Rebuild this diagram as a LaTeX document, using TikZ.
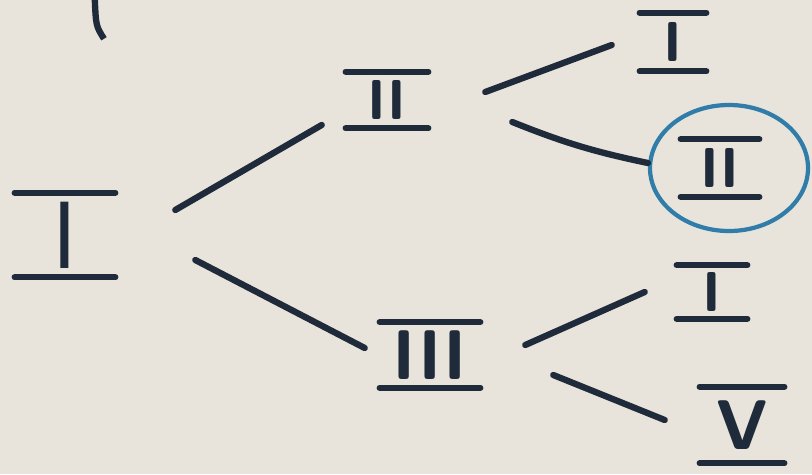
\documentclass[tikz,border=0pt]{standalone}
\usepackage{fontspec}
\usepackage{xcolor}
\usetikzlibrary{shapes.geometric}
\definecolor{ink}{HTML}{1F2B3A}
\definecolor{paper}{HTML}{E9E4DB}
\definecolor{pen}{HTML}{2F7DA8}

\begin{document}
\begin{tikzpicture}[
    bar/.style={ink, line width=4.5pt, line cap=round},
    branch/.style={ink, line width=4.5pt, line cap=round},
    numeral/.style={font=\sffamily\bfseries\fontsize{40}{40}\selectfont, text=ink, inner sep=0pt,
        append after command={
            (\tikzlastnode.north west) edge[bar] (\tikzlastnode.north east)
            (\tikzlastnode.south west) edge[bar] (\tikzlastnode.south east)}},
  ]
    % 背景
    \useasboundingbox (0,0) rectangle (20.3,11.85);
    \fill[paper] (0,0) rectangle (20.3,11.85);

    % 结点
    \node[numeral, font=\sffamily\fontsize{68}{68}\selectfont, minimum width=2.5cm, minimum height=2.1cm] (root) at (1.625,5.975) {I};
    \node[numeral, minimum width=2.05cm, minimum height=1.4cm] (two) at (9.675,9.35) {II};
    \node[numeral, font=\sffamily\bfseries\fontsize{50}{50}\selectfont, minimum width=2.5cm, minimum height=1.625cm] (three) at (10.75,2.975) {III};
    \node[numeral, minimum width=1.65cm, minimum height=1.45cm] (twoOne) at (16.825,10.8) {I};
    \node[numeral, minimum width=1.95cm, minimum height=1.425cm] (twoTwo) at (18.0,7.65) {II};
    \node[numeral, minimum width=1.75cm, minimum height=1.325cm] (threeOne) at (17.8,4.55) {I};
    \node[numeral, font=\sffamily\bfseries\fontsize{50}{50}\selectfont, minimum width=2.1cm, minimum height=1.9cm] (threeFive) at (18.55,1.225) {V};

    % 圈出
    \node[draw=pen, line width=3pt, ellipse, minimum width=3.95cm, minimum height=3.15cm] (ring) at (18.225,7.65) {};

    % 连线
    \draw[branch] ([shift={(1.5,0.625)}]root.east) -- ([shift={(-0.6,-0.625)}]two.west);
    \draw[branch] ([shift={(2.0,-0.625)}]root.east) -- ([shift={(-0.375,0.175)}]three.west);
    \draw[branch] ([shift={(1.425,0.2)}]two.east) -- ([shift={(-0.7,-0.075)}]twoOne.west);
    \draw[branch] ([shift={(2.1,-0.55)}]two.east) to[bend right=5] ([shift={(0,0.125)}]ring.west);
    \draw[branch] ([shift={(1.125,0.25)}]three.east) -- ([shift={(-0.8,0)}]threeOne.west);
    \draw[branch] ([shift={(1.825,-0.5)}]three.east) -- ([shift={(-0.875,0.125)}]threeFive.west);

    % 左上残笔
    \draw[branch, line cap=butt] (2.37,11.85) .. controls (2.4,11.2) .. (2.6,10.88);
\end{tikzpicture}
\end{document}
